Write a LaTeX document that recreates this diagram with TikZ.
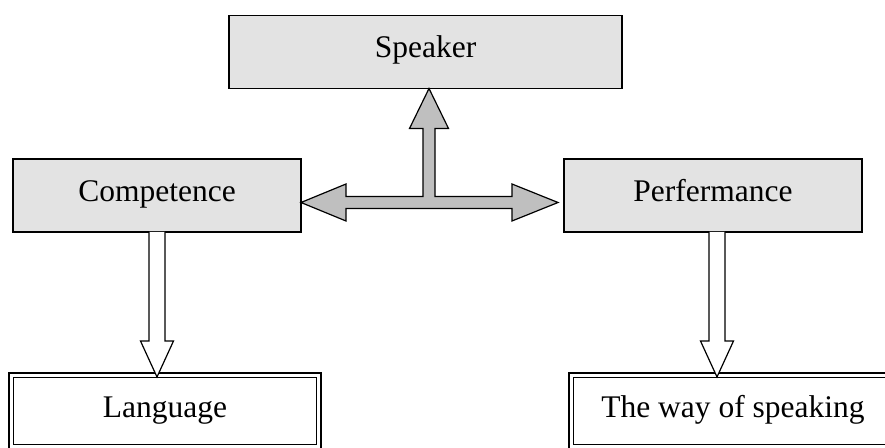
\documentclass[tikz,border=0pt]{standalone}
\usepackage{fontspec}
\setmainfont{Liberation Serif}
\usepackage{tikz}
\usetikzlibrary{calc}

\begin{document}
\begin{tikzpicture}[x=1pt,y=1pt,
    every node/.style={font=\fontsize{31.5}{38}\selectfont,text height=21pt,text depth=9pt},
    shadebox/.style={draw,line width=1.6pt,fill=gray!22,outer sep=0pt,minimum height=73pt,inner sep=0pt},
    framebox/.style={draw,line width=2.5pt,fill=white,outer sep=0pt,minimum height=76pt,inner sep=0pt},
    fatarrow/.style={draw,line width=1.2pt,fill=gray!50,line join=miter},
    hollowarrow/.style={draw,line width=1.2pt,fill=white,line join=miter}]
  \useasboundingbox (0,0) rectangle (885,447);
  \clip (0,0) rectangle (885,447);
  \node[shadebox,minimum width=393pt] (speaker) at (425.5,395) {Speaker};
  \node[shadebox,minimum width=288pt] (comp) at (157,251.5) {Competence};
  \node[shadebox,minimum width=298pt] (perf) at (713,251.5) {Perfermance};
  \node[framebox,minimum width=312pt] (lang) at (165,36) {Language};
  \node[framebox,minimum width=328pt] (way) at (733,36) {The way of speaking};
  \foreach \n in {lang,way}
    \draw[line width=1pt] ([shift={(4.5,-4.5)}]\n.north west) rectangle ([shift={(-4.5,4.5)}]\n.south east);
  \coordinate (L) at ([yshift=-7]comp.east);
  \coordinate (R) at ([xshift=-6,yshift=-7]perf.west);
  \coordinate (T) at ([xshift=3.5]speaker.south);
  \draw[fatarrow] let \p1=(L), \p2=(R), \p3=(T) in
    (\p1) -- (\x1+45pt,\y1+18.5pt) -- (\x1+45pt,\y1+6pt) -- (\x3-6pt,\y1+6pt) -- (\x3-6pt,\y3-40pt)
    -- (\x3-19.5pt,\y3-40pt) -- (\p3) -- (\x3+19.5pt,\y3-40pt) -- (\x3+6pt,\y3-40pt) -- (\x3+6pt,\y1+6pt)
    -- (\x2-46pt,\y1+6pt) -- (\x2-46pt,\y1+18.5pt) -- (\p2) -- (\x2-46pt,\y1-18.5pt) -- (\x2-46pt,\y1-6pt)
    -- (\x1+45pt,\y1-6pt) -- (\x1+45pt,\y1-18.5pt) -- cycle;
  \foreach \a/\b/\s in {comp/lang/0,perf/way/4}
    \draw[hollowarrow] let \p1=([xshift=\s]\a.south), \p2=(\a.south |- \b.north) in
      (\x1-8pt,\y1) -- (\x1-8pt,\y2+32pt) -- (\x1-16.5pt,\y2+32pt) -- (\x1,\y2-4pt)
      -- (\x1+16.5pt,\y2+32pt) -- (\x1+8pt,\y2+32pt) -- (\x1+8pt,\y1);
\end{tikzpicture}
\end{document}
